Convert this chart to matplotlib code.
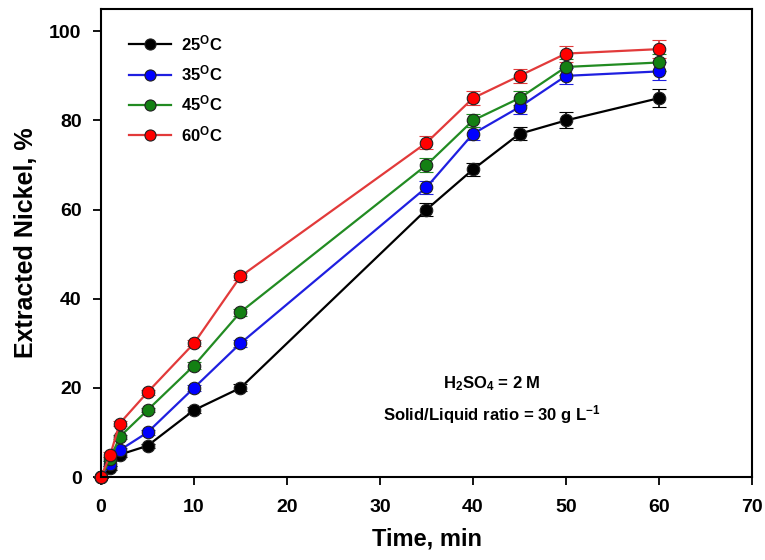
import numpy as np
import matplotlib
matplotlib.use('Agg')
import matplotlib.pyplot as plt
from matplotlib.lines import Line2D

plt.rcParams['font.family'] = ['Liberation Sans', 'DejaVu Sans']
plt.rcParams['font.weight'] = 'bold'
plt.rcParams['mathtext.fontset'] = 'custom'
plt.rcParams['mathtext.rm'] = 'Liberation Sans:bold'
plt.rcParams['mathtext.bf'] = 'Liberation Sans:bold'
plt.rcParams['mathtext.it'] = 'Liberation Sans:bold'

time = [0, 1, 2, 5, 10, 15, 35, 40, 45, 50, 60]
temps = ['25', '35', '45', '60']
ni_25 = [0, 2, 5, 7, 15, 20, 60, 69, 77, 80, 85]
ni_35 = [0, 3, 6, 10, 20, 30, 65, 77, 83, 90, 91]
ni_45 = [0, 4, 9, 15, 25, 37, 70, 80, 85, 92, 93]
ni_60 = [0, 5, 12, 19, 30, 45, 75, 85, 90, 95, 96]
err = [0.3, 0.5, 0.5, 0.5, 0.7, 0.8, 1.5, 1.5, 1.5, 1.8, 2.0]

line_colors = ['black', '#1f1fe0', '#228b22', '#e23a3a']
face_colors = ['black', '#0000ff', '#138013', '#ff0000']
series = [ni_25, ni_35, ni_45, ni_60]

fig = plt.figure(figsize=(7.65, 5.6), dpi=100)
ax = fig.add_axes([101/765, 1 - 477/560, 651/765, 468/560])

handles = []
for vals, lc, fc, t in zip(series, line_colors, face_colors, temps):
    cont = ax.errorbar(time, vals, yerr=err, color=lc, lw=1.6, marker='o', ms=9,
                       mfc=fc, mec='#202020', mew=0.8, ecolor=lc, elinewidth=1.2,
                       capsize=5, capthick=1.2)
    cont[0].set_clip_on(False)
    for c in cont[1]:
        c.set_clip_on(False)
    handles.append(Line2D([], [], color=lc, lw=1.6, marker='o', ms=8, mfc=fc,
                          mec='#202020', mew=0.8,
                          label=r'$\mathbf{%s^{O}C}$' % t))

ax.set_xlim(0, 70)
ax.set_ylim(0, 105)
ax.set_xticks(np.arange(0, 71, 10))
ax.set_yticks(np.arange(0, 101, 20))
ax.tick_params(direction='out', length=6, width=1.3, labelsize=14)
ax.tick_params(axis='x', pad=10)
ax.tick_params(axis='y', pad=8)
for lab in ax.get_xticklabels() + ax.get_yticklabels():
    lab.set_fontweight('bold')
for sp in ax.spines.values():
    sp.set_linewidth(1.5)

ax.set_xlabel('Time, min', fontsize=17, fontweight='bold', labelpad=8)
ax.set_ylabel('Extracted Nickel, %', fontsize=18, fontweight='bold', labelpad=8)

ax.text(42.0, 20.9, r'$\mathbf{H_2SO_4}$ = 2 M', ha='center', va='center',
        fontsize=12, fontweight='bold')
ax.text(42.0, 14.0, r'Solid/Liquid ratio = 30 g L$^{\mathbf{-1}}$', ha='center',
        va='center', fontsize=12, fontweight='bold')

ax.legend(handles=handles, loc='upper left', bbox_to_anchor=(0.02, 0.98),
          frameon=False, fontsize=12, handlelength=2.5, handletextpad=0.6,
          labelspacing=0.62)

fig.savefig('out.png', dpi=100)
